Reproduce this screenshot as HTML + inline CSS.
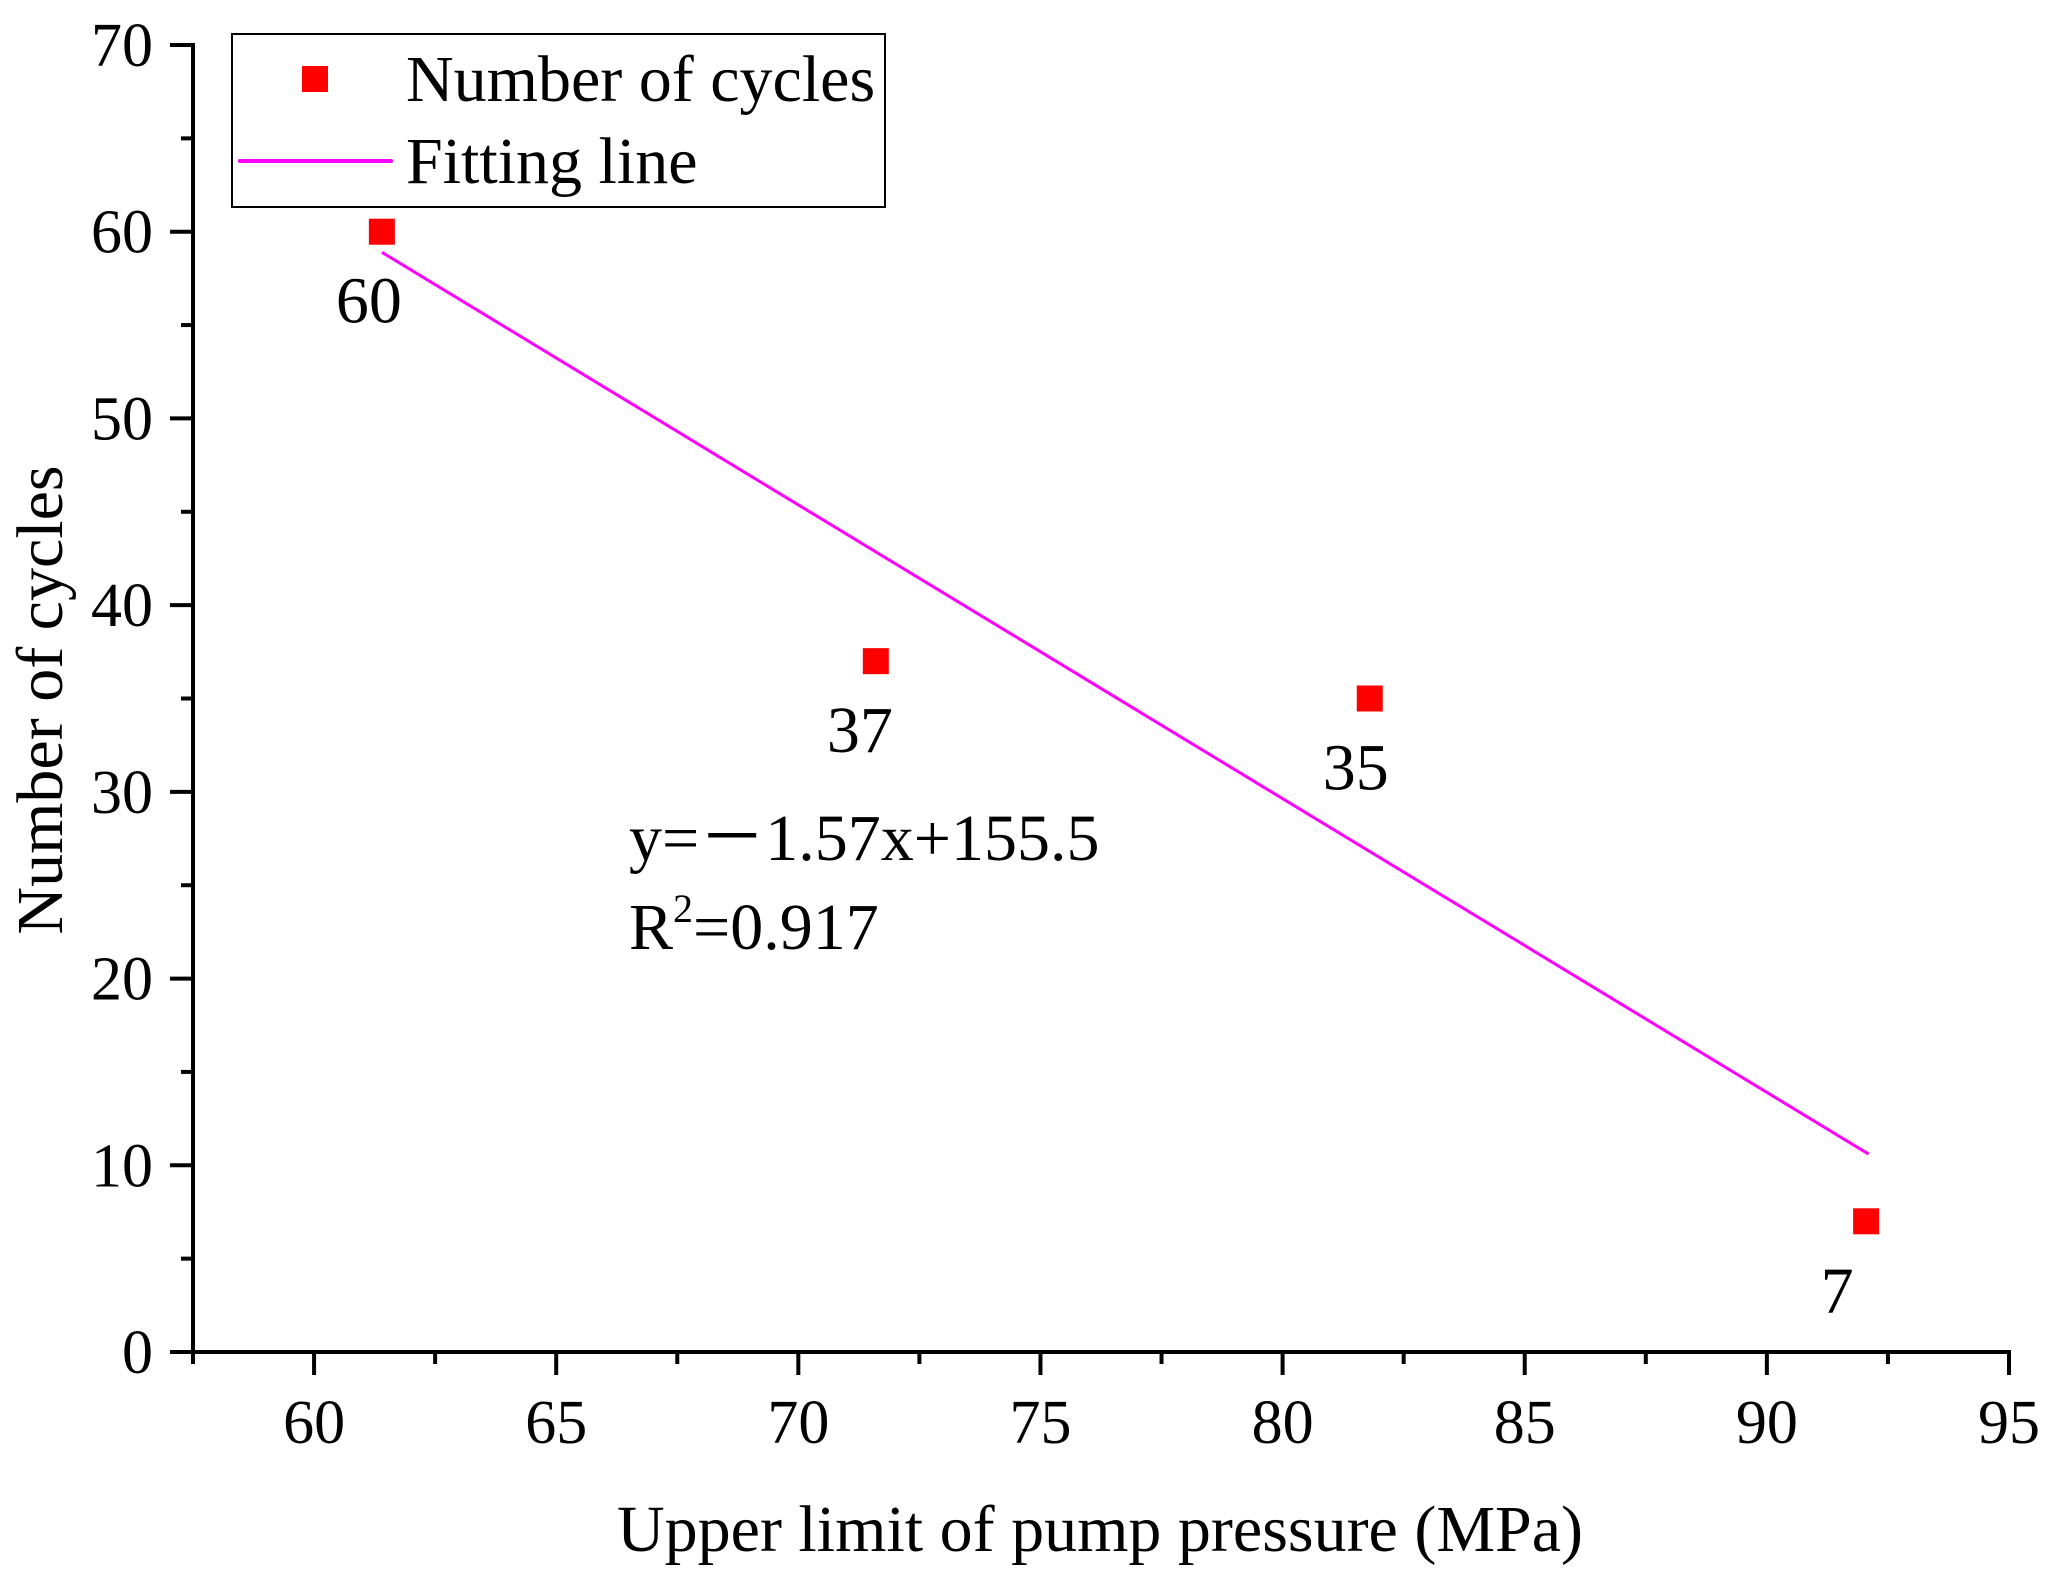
<!DOCTYPE html>
<html><head><meta charset="utf-8"><style>
html,body{margin:0;padding:0;background:#fff;}
svg{display:block;font-family:"Liberation Serif",serif;}
</style></head><body>
<svg id="chart" width="2054" height="1582" viewBox="0 0 2054 1582" xmlns="http://www.w3.org/2000/svg">
<g id="axes"></g>
<g id="marks"></g>
<g>
<rect x="232" y="34" width="653" height="173" fill="#fff" stroke="#000" stroke-width="2"/>
<rect x="302" y="66" width="26" height="26" fill="#ff0000"/>
<text x="406" y="101" font-size="66">Number of cycles</text>
<line x1="240" y1="161" x2="391" y2="161" stroke="#ff00ff" stroke-width="4" stroke-linecap="round"/>
<text x="406" y="183" font-size="66">Fitting line</text>
</g>
<text x="629" y="860" font-size="66">y=－1.57x+155.5</text>
<text x="629" y="949" font-size="66">R<tspan dy="-27" font-size="40">2</tspan><tspan dy="27">=0.917</tspan></text>
<text x="1100" y="1551" font-size="66" text-anchor="middle">Upper limit of pump pressure (MPa)</text>
<text transform="translate(62,700) rotate(-90)" font-size="66" text-anchor="middle">Number of cycles</text>
</svg>
<script>
const xValues = [61.4, 71.6, 81.8, 92.05];
const yValues = [60, 37, 35, 7];
const pointLabels = ["60", "37", "35", "7"];
const fitX = [61.4, 92.1];
const fitY = [58.9, 10.6];
const xTicks = [60, 65, 70, 75, 80, 85, 90, 95];
const yTicks = [0, 10, 20, 30, 40, 50, 60, 70];

const X0 = 193, X1 = 2009, XMIN = 57.5, XMAX = 95;
const Y0 = 1352, Y1 = 45, YMIN = 0, YMAX = 70;
const sx = v => X0 + (v - XMIN) / (XMAX - XMIN) * (X1 - X0);
const sy = v => Y0 - (v - YMIN) / (YMAX - YMIN) * (Y0 - Y1);
const NS = "http://www.w3.org/2000/svg";
function mk(tag, attrs, parent, txt) {
  const e = document.createElementNS(NS, tag);
  for (const k in attrs) e.setAttribute(k, attrs[k]);
  if (txt !== undefined) e.textContent = txt;
  parent.appendChild(e);
  return e;
}
const axes = document.getElementById('axes');
const marks = document.getElementById('marks');
let e = mk('line', {x1: X0, y1: Y0, x2: X1 + 2, y2: Y0, stroke: '#000', 'stroke-width': 4}, axes);


e = mk('line', {x1: X0, y1: Y0 + 2, x2: X0, y2: Y1 - 2, stroke: '#000', 'stroke-width': 4}, axes);


for (let v = 57.5; v <= 95.01; v += 2.5) {
  const major = Math.abs(v % 5) < 0.01;
  e = mk('line', {x1: sx(v), y1: Y0, x2: sx(v), y2: Y0 + (major ? 23 : 12), stroke: '#000', 'stroke-width': 4}, axes);
  
  
}
xTicks.forEach(v => {
  e = mk('text', {x: sx(v), y: 1443, 'font-size': 62, 'text-anchor': 'middle'}, axes, String(v));
  
  
});
for (let v = 0; v <= 70; v += 5) {
  const major = v % 10 === 0;
  e = mk('line', {x1: X0, y1: sy(v), x2: X0 - (major ? 23 : 12), y2: sy(v), stroke: '#000', 'stroke-width': 4}, axes);
  
  
}
yTicks.forEach(v => {
  e = mk('text', {x: 153, y: sy(v) + 21, 'font-size': 62, 'text-anchor': 'end'}, axes, String(v));
  
  
});
e = mk('line', {x1: sx(fitX[0]), y1: sy(fitY[0]), x2: sx(fitX[1]), y2: sy(fitY[1]), stroke: '#ff00ff', 'stroke-width': 3}, marks);


const labelDx = [-13, -16, -14, -29];
xValues.forEach((xv, i) => {
  const cx = sx(xv), cy = sy(yValues[i]);
  e = mk('rect', {x: cx - 13, y: cy - 13, width: 26, height: 26, fill: '#ff0000'}, marks);
  
  
  e = mk('text', {x: cx + labelDx[i], y: cy + 91, 'font-size': 66, 'text-anchor': 'middle'}, marks, pointLabels[i]);
  
  
});
</script>
</body></html>
